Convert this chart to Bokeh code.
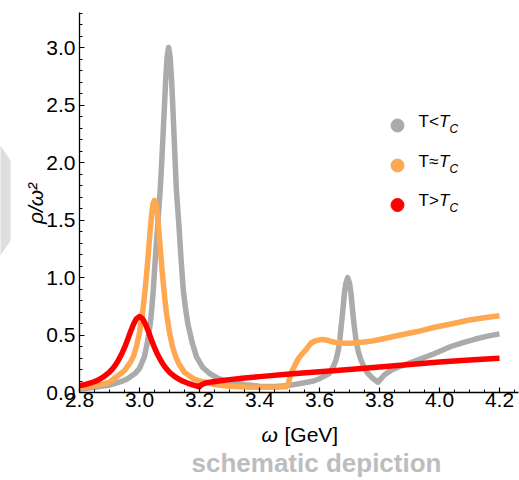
import numpy as np
from bokeh.plotting import figure
from bokeh.models import (Range1d, Label, PolyAnnotation, FixedTicker, PrintfTickFormatter,
                          LinearAxis)
from bokeh.embed import file_html
from bokeh.resources import INLINE

# ---------------- data ----------------
gray_x = [2.80, 2.85, 2.90, 2.938, 2.96, 2.986, 3.00, 3.016, 3.026, 3.036, 3.041, 3.046,
          3.053, 3.061, 3.069, 3.075, 3.082, 3.087, 3.092, 3.097, 3.102, 3.107, 3.112,
          3.117, 3.123, 3.131, 3.138, 3.146, 3.153, 3.161, 3.175, 3.19, 3.21, 3.233,
          3.26, 3.294, 3.35, 3.40, 3.45, 3.50, 3.55, 3.58, 3.60, 3.62, 3.633, 3.645,
          3.655, 3.662, 3.668, 3.672, 3.678, 3.683, 3.688, 3.694, 3.700, 3.705, 3.710,
          3.716, 3.722, 3.729, 3.738, 3.75, 3.761, 3.775, 3.785, 3.795, 3.80, 3.816,
          3.84, 3.872, 3.927, 3.98, 4.038, 4.073, 4.12, 4.16, 4.20]
gray_y = [0.03, 0.045, 0.065, 0.094, 0.12, 0.167, 0.21, 0.31, 0.43, 0.60, 0.73, 0.891,
          1.18, 1.47, 1.76, 2.05, 2.43, 2.70, 2.92, 3.00, 2.92, 2.72, 2.43,
          2.12, 1.76, 1.47, 1.18, 0.891, 0.74, 0.60, 0.44, 0.31, 0.22, 0.167,
          0.125, 0.094, 0.068, 0.055, 0.052, 0.062, 0.085, 0.10, 0.12, 0.148, 0.167, 0.22,
          0.283, 0.36, 0.46, 0.572, 0.72, 0.863, 0.95, 1.00, 0.95, 0.863, 0.72,
          0.572, 0.45, 0.36, 0.283, 0.21, 0.167, 0.13, 0.108, 0.09, 0.105, 0.152,
          0.195, 0.23, 0.283, 0.335, 0.40, 0.43, 0.465, 0.49, 0.51]

orange_x = [2.80, 2.85, 2.88, 2.90, 2.93, 2.95, 2.97, 2.98, 2.99, 3.00, 3.01, 3.015, 3.02,
            3.025, 3.03, 3.035, 3.04, 3.045, 3.05, 3.055, 3.06, 3.065, 3.07, 3.075, 3.08,
            3.085, 3.09, 3.10, 3.11, 3.12, 3.13, 3.15, 3.18, 3.20, 3.25, 3.30, 3.35, 3.40,
            3.45, 3.49, 3.495, 3.50, 3.505, 3.515, 3.527, 3.54, 3.549, 3.56, 3.572, 3.585,
            3.60, 3.61, 3.625, 3.64, 3.655, 3.672, 3.705, 3.738, 3.78, 3.816, 3.87, 3.927,
            3.98, 4.038, 4.10, 4.15, 4.20]
orange_y = [0.04, 0.06, 0.075, 0.09, 0.15, 0.19, 0.265, 0.315, 0.40, 0.52, 0.69, 0.80, 0.93,
            1.07, 1.23, 1.39, 1.54, 1.64, 1.67, 1.64, 1.54, 1.39, 1.23, 1.07, 0.93,
            0.80, 0.69, 0.52, 0.40, 0.315, 0.255, 0.175, 0.12, 0.10, 0.07, 0.055, 0.048, 0.045,
            0.045, 0.05, 0.07, 0.12, 0.17, 0.22, 0.283, 0.33, 0.355, 0.39, 0.43, 0.448,
            0.458, 0.462, 0.455, 0.443, 0.435, 0.43, 0.428, 0.436, 0.45, 0.47, 0.50, 0.53,
            0.565, 0.596, 0.63, 0.65, 0.668]

red_x = [2.80, 2.82, 2.84, 2.86, 2.88, 2.90, 2.91, 2.92, 2.93, 2.94, 2.95, 2.96, 2.97,
         2.98, 2.99, 3.00, 3.01, 3.02, 3.03, 3.04, 3.05, 3.06, 3.07, 3.08, 3.09, 3.10,
         3.12, 3.14, 3.16, 3.18, 3.20, 3.203, 3.21, 3.22, 3.24, 3.27, 3.30, 3.35, 3.40,
         3.50, 3.60, 3.70, 3.80, 3.90, 4.00, 4.10, 4.20]
red_y = [0.06, 0.07, 0.085, 0.105, 0.135, 0.178, 0.205, 0.24, 0.282, 0.332, 0.39, 0.457, 0.528,
         0.594, 0.642, 0.66, 0.642, 0.594, 0.528, 0.457, 0.39, 0.332, 0.282, 0.24, 0.205, 0.176,
         0.133, 0.103, 0.082, 0.065, 0.05, 0.06, 0.072, 0.082, 0.092, 0.102, 0.112, 0.126, 0.138,
         0.16, 0.18, 0.20, 0.222, 0.243, 0.265, 0.282, 0.297]

x_ticks = [2.8, 3.0, 3.2, 3.4, 3.6, 3.8, 4.0, 4.2]
y_ticks = [0.0, 0.5, 1.0, 1.5, 2.0, 2.5, 3.0]
legend_labels = ["T<", "T\u2248", "T>"]

GRAY = "#ababab"
ORANGE = "#ffa852"
RED = "#ff0000"
colors = [GRAY, ORANGE, RED]
FONT = "Liberation Sans"

# ---------------- layout: frame covers the whole canvas ----------------
W, H = 519, 480
X0PX, Y0PX = 79.0, 392.0        # canvas position of (2.8, 0)
XS, YS = 300.0, 115.0           # pixels per unit
x_lo, x_hi = 2.8 - X0PX / XS, 2.8 + (W - X0PX) / XS
y_lo, y_hi = -(H - Y0PX) / YS, Y0PX / YS
x_axis_end = 2.8 + (W - 1 - X0PX) / XS
y_axis_end = (Y0PX - 12) / YS

p = figure(width=W, height=H, output_backend="svg", toolbar_location=None,
           x_range=Range1d(x_lo, x_hi), y_range=Range1d(y_lo, y_hi),
           x_axis_type=None, y_axis_type=None,
           min_border=0, min_border_left=0, min_border_right=0,
           min_border_top=0, min_border_bottom=0)
p.outline_line_color = None
p.xgrid.visible = False
p.ygrid.visible = False
p.background_fill_color = "white"
p.border_fill_color = "white"

xaxis = LinearAxis(fixed_location=0, bounds=(2.8, x_axis_end))
yaxis = LinearAxis(fixed_location=2.8, bounds=(0, y_axis_end))
xaxis.ticker = FixedTicker(ticks=x_ticks,
                           minor_ticks=list(np.round(np.arange(2.8, 4.27, 0.05), 3)))
yaxis.ticker = FixedTicker(ticks=y_ticks,
                           minor_ticks=list(np.round(np.arange(0.0, 3.31, 0.1), 3)))
for ax in (xaxis, yaxis):
    ax.axis_line_color = "black"
    ax.axis_line_width = 1.3
    ax.major_tick_in = 5
    ax.major_tick_out = 0
    ax.minor_tick_in = 3
    ax.minor_tick_out = 0
    ax.major_tick_line_width = 1.2
    ax.minor_tick_line_width = 1
    ax.major_label_text_font = FONT
    ax.major_label_text_font_size = "21px"
    ax.major_label_text_color = "black"
    ax.formatter = PrintfTickFormatter(format="%.1f")
xaxis.major_label_standoff = 0
yaxis.major_label_standoff = 4
p.add_layout(xaxis, "below")
p.add_layout(yaxis, "left")

# gray decoration at far left (canvas px, y measured from bottom)
p.add_layout(PolyAnnotation(xs=[-5, 0, 10, 10, 0, -5], ys=[335, 335, 320, 240, 225, 225],
                            xs_units="screen", ys_units="screen",
                            fill_color="#dedede", fill_alpha=1.0, line_color=None))

# ---------------- curves ----------------
for xs, ys, c in ((gray_x, gray_y, GRAY), (orange_x, orange_y, ORANGE), (red_x, red_y, RED)):
    p.line(xs, ys, line_color=c, line_width=5.5, line_join="round")

# ---------------- legend ----------------
p.extra_x_ranges = {"px": Range1d(0, W)}
p.extra_y_ranges = {"px": Range1d(0, H)}
row_base = [350, 310, 270.5]     # text baselines, px from bottom
p.scatter([397, 397, 397], [b + 5 for b in row_base], size=13, color=colors,
          x_range_name="px", y_range_name="px")
for lab, b in zip(legend_labels, row_base):
    p.add_layout(Label(x=418, y=b, x_units="screen", y_units="screen", text=lab,
                       text_font=FONT, text_font_size="17px", text_color="black"))
    p.add_layout(Label(x=438.5, y=b, x_units="screen", y_units="screen", text="T",
                       text_font=FONT, text_font_size="17px", text_font_style="italic",
                       text_color="black"))
    p.add_layout(Label(x=449, y=b - 5, x_units="screen", y_units="screen", text="C",
                       text_font=FONT, text_font_size="12px", text_font_style="italic",
                       text_color="black"))

# ---------------- axis titles + caption ----------------
p.add_layout(Label(x=35, y=H - 203, x_units="screen", y_units="screen",
                   text="\u03c1/\u03c9\u00b2", angle=np.pi / 2, text_align="center",
                   text_baseline="alphabetic", text_font=FONT, text_font_size="21px",
                   text_font_style="italic", text_color="black"))
p.add_layout(Label(x=261, y=H - 445, x_units="screen", y_units="screen", text="\u03c9",
                   text_font=FONT, text_font_size="21px", text_font_style="italic",
                   text_color="black"))
p.add_layout(Label(x=284, y=H - 445, x_units="screen", y_units="screen", text="[GeV]",
                   text_font=FONT, text_font_size="21px", text_color="black"))
p.add_layout(Label(x=316, y=H - 477, x_units="screen", y_units="screen",
                   text="schematic depiction", text_align="center",
                   text_font=FONT, text_font_size="26px", text_font_style="bold",
                   text_color="#bdbdbd"))

open("out.html", "w").write(file_html(p, INLINE))
